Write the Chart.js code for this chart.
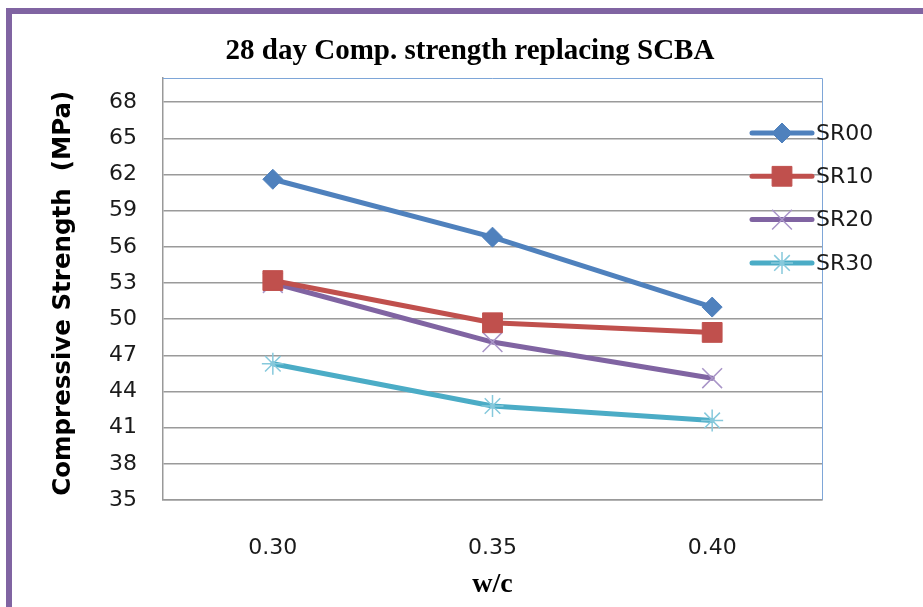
<!DOCTYPE html>
<html>
<head>
<meta charset="utf-8">
<script src="https://cdn.jsdelivr.net/npm/chart.js"></script>
<style>
  html, body { margin: 0; padding: 0; background: #fff; }
  #wrap { position: relative; width: 923px; height: 607px; }
</style>
</head>
<body>
<div id="wrap"><canvas id="chart"></canvas></div>
<script>
const categories = ['0.30', '0.35', '0.40']
const sr00 = [61.6, 56.8, 51.0]
const sr10 = [53.2, 49.7, 48.9]
const sr20 = [53.0, 48.1, 45.1]
const sr30 = [46.3, 42.8, 41.6]
const yTicks = [35, 38, 41, 44, 47, 50, 53, 56, 59, 62, 65, 68]

const sans = "'DejaVu Sans', sans-serif"
const serif = "'Liberation Serif', 'Times New Roman', serif"

function series(label, data, color, style, radius, markerColor, markerWidth) {
  return {
    label, data,
    borderColor: color,
    backgroundColor: color,
    borderWidth: 5,
    borderCapStyle: 'round',
    borderJoinStyle: 'round',
    tension: 0,
    pointStyle: style,
    pointRadius: radius,
    pointHoverRadius: radius,
    pointBackgroundColor: markerColor,
    pointBorderColor: markerColor,
    pointBorderWidth: markerWidth
  }
}

const datasets = [
  series('SR00', sr00, '#4F81BD', 'rectRot', 10, '#4F81BD', 1),
  series('SR10', sr10, '#C0504D', 'rect', 14, '#C0504D', 1),
  series('SR20', sr20, '#8064A2', 'crossRot', 14, '#A995C8', 1.5),
  series('SR30', sr30, '#4BACC6', 'star', 11, '#86C9DC', 1.5),
]

// purple frame, plot border, overlaid legend
const decor = {
  id: 'decor',
  beforeDraw(chart) {
    const ctx = chart.ctx
    ctx.save()
    ctx.fillStyle = '#8064A2'
    ctx.fillRect(6, 8, chart.width, 6)
    ctx.fillRect(6, 8, 6, chart.height)
    ctx.restore()
  },
  beforeDatasetsDraw(chart) {
    const {ctx, chartArea: a} = chart
    ctx.save()
    ctx.strokeStyle = '#7EA6D8'
    ctx.lineWidth = 1
    ctx.beginPath()
    ctx.moveTo(a.left, a.top + 0.5)
    ctx.lineTo(a.right + 0.5, a.top + 0.5)
    ctx.lineTo(a.right + 0.5, a.bottom)
    ctx.stroke()
    ctx.restore()
  },
  afterDatasetsDraw(chart) {
    const ctx = chart.ctx
    const x0 = 752, x1 = 812, top = 133, step = 43.3
    ctx.save()
    chart.data.datasets.forEach((ds, i) => {
      const y = top + i * step
      ctx.strokeStyle = ds.borderColor
      ctx.lineWidth = ds.borderWidth
      ctx.lineCap = 'round'
      ctx.beginPath()
      ctx.moveTo(x0, y)
      ctx.lineTo(x1, y)
      ctx.stroke()
      ctx.fillStyle = ds.pointBackgroundColor
      ctx.strokeStyle = ds.pointBorderColor
      ctx.lineWidth = ds.pointBorderWidth
      ctx.lineCap = 'butt'
      Chart.helpers.drawPoint(ctx, {pointStyle: ds.pointStyle, radius: ds.pointRadius, borderWidth: ds.pointBorderWidth}, (x0 + x1) / 2, y)
      ctx.fillStyle = '#1a1a1a'
      ctx.font = '22px ' + sans
      ctx.textAlign = 'left'
      ctx.textBaseline = 'middle'
      ctx.fillText(ds.label, 816, y + 1)
    })
    ctx.restore()
  }
}

new Chart(document.getElementById('chart'), {
  type: 'line',
  data: { labels: categories, datasets },
  plugins: [decor],
  options: {
    responsive: true,
    maintainAspectRatio: false,
    animation: false,
    layout: { padding: { left: 17, right: 0, top: 0, bottom: 0 } },
    plugins: {
      legend: { display: false },
      tooltip: { enabled: false },
      title: {
        display: true,
        text: '28 day Comp. strength replacing SCBA',
        color: '#000',
        font: { family: serif, size: 29, weight: 'bold', lineHeight: 1.2 },
        padding: { top: 34, bottom: 9.2 }
      }
    },
    scales: {
      x: {
        type: 'category',
        offset: true,
        grid: { display: false, drawTicks: false },
        border: { display: true, color: '#999', width: 1.5 },
        ticks: { color: '#1a1a1a', font: { family: sans, size: 22 }, padding: 35 },
        title: {
          display: true, text: 'w/c', color: '#000',
          font: { family: serif, size: 28, weight: 'bold', lineHeight: 1.2 },
          padding: { top: 0, bottom: 5 }
        },
        afterFit(s) { s.height = 107 }
      },
      y: {
        min: 35, max: 70,
        afterBuildTicks(s) { s.ticks = yTicks.map(v => ({ value: v })) },
        grid: { color: '#9a9a9a', lineWidth: 1.5, drawTicks: false },
        border: { display: true, color: '#999', width: 1.5 },
        ticks: { color: '#1a1a1a', font: { family: sans, size: 22 }, padding: 26 },
        title: {
          display: true, text: 'Compressive Strength  (MPa)\u00a0', color: '#000',
          font: { family: sans, size: 24.5, weight: 'bold', lineHeight: 1.2 },
          padding: { top: 32, bottom: 0 }
        },
        afterFit(s) { s.width = 146 }
      },
      yR: {
        position: 'right',
        display: true,
        grid: { display: false, drawTicks: false },
        border: { display: false },
        ticks: { display: false },
        afterFit(s) { s.width = 101 }
      }
    }
  }
})
</script>
</body>
</html>
